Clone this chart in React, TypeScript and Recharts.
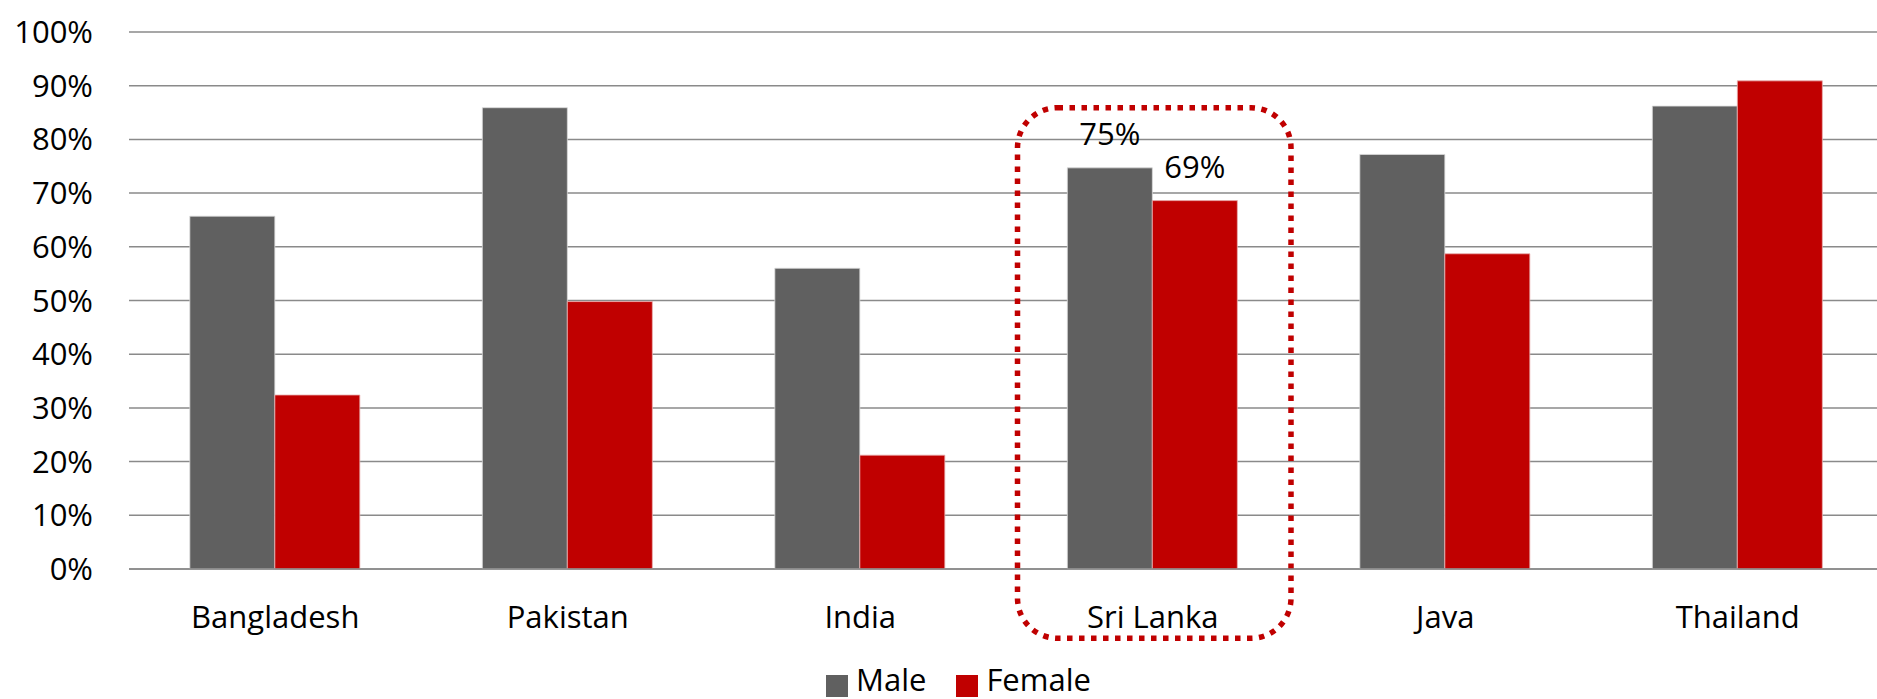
import { Bar, BarChart, CartesianGrid, LabelList, Legend, ReferenceArea, XAxis, YAxis } from "recharts";

const categories = ["Bangladesh", "Pakistan", "India", "Sri Lanka", "Java", "Thailand"];
const seriesNames = ["Male", "Female"];
const maleShare = [65.7, 85.9, 56.0, 74.7, 77.2, 86.2];
const femaleShare = [32.4, 49.8, 21.2, 68.6, 58.7, 90.9];
const yTicks = [0, 10, 20, 30, 40, 50, 60, 70, 80, 90, 100];

// the country circled in the original, and how far the dotted box reaches (in % units)
const highlightCountry = "Sri Lanka";
const highlightBottom = -12.9;
const highlightTop = 85.9;

const rows = categories.map((country, i) => ({ country, male: maleShare[i], female: femaleShare[i] }));

const FONT = "'Open Sans', sans-serif";
const MALE = "#606060";
const FEMALE = "#C00000";
const GRID = "#8a8a8a";

function HighlightBox(props: any) {
  const { x, y, width, height } = props;
  return (
    <rect
      x={x + 11}
      y={y}
      width={width - 19}
      height={height}
      rx={40}
      ry={40}
      fill="none"
      stroke={FEMALE}
      strokeWidth={5.5}
      strokeDasharray="5.5 6.5"
    />
  );
}

function highlightLabel(props: any) {
  const vb = props.viewBox ?? props;
  const { index, value } = props;
  if (categories[index] !== highlightCountry) return null;
  return (
    <text x={vb.x + vb.width / 2} y={vb.y - 23} textAnchor="middle" fontSize={31} fill="#000" fontFamily={FONT}>
      {Math.round(value)}%
    </text>
  );
}

function LegendContent({ payload }: any) {
  // keep series order (legend sorts by name otherwise)
  const items = [...(payload || [])].sort(
    (a: any, b: any) => seriesNames.indexOf(a.value) - seriesNames.indexOf(b.value)
  );
  return (
    <div
      style={{
        display: "flex",
        justifyContent: "center",
        gap: 30,
        fontFamily: FONT,
        fontSize: 31,
        lineHeight: "42px",
        color: "#000"
      }}
    >
      {items.map((item: any) => (
        <span key={item.value} style={{ display: "flex", alignItems: "flex-start", gap: 8 }}>
          <span style={{ width: 22, height: 22, marginTop: 17, background: item.color }} />
          {item.value}
        </span>
      ))}
    </div>
  );
}

export default function App() {
  return (
    <div style={{ position: "absolute", left: 0, top: 0, width: 1877, height: 699, overflow: "hidden", fontFamily: FONT }}>
      <BarChart
        width={1877}
        height={699}
        data={rows}
        margin={{ top: 32, right: -7, left: 0, bottom: 100 }}
        barCategoryGap="20.8%"
        barGap={0}
      >
        <CartesianGrid vertical={false} stroke={GRID} strokeWidth={1.5} />
        <XAxis
          dataKey="country"
          height={30}
          tickLine={false}
          tickSize={0}
          tickMargin={37}
          axisLine={{ stroke: GRID, strokeWidth: 1.5 }}
          tick={{ fontSize: 31, fill: "#000", fontFamily: FONT }}
          interval={0}
        />
        <YAxis
          width={129}
          domain={[0, 100]}
          ticks={yTicks}
          tickFormatter={(v) => `${v}%`}
          tickLine={false}
          axisLine={false}
          tickSize={0}
          tickMargin={36}
          tick={{ fontSize: 31, fill: "#000", fontFamily: FONT }}
        />
        <Legend
          verticalAlign="middle"
          align="center"
          layout="horizontal"
          content={<LegendContent />}
          wrapperStyle={{ top: 658, left: 40, width: 1837 }}
        />
        <Bar dataKey="male" name={seriesNames[0]} fill={MALE} stroke="#d9d9d9" strokeWidth={0.8} isAnimationActive={false}>
          <LabelList dataKey="male" content={highlightLabel} />
        </Bar>
        <Bar dataKey="female" name={seriesNames[1]} fill={FEMALE} stroke="#e8b0b0" strokeWidth={0.8} isAnimationActive={false}>
          <LabelList dataKey="female" content={highlightLabel} />
        </Bar>
        <ReferenceArea
          x1={highlightCountry}
          x2={highlightCountry}
          y1={highlightBottom}
          y2={highlightTop}
          ifOverflow="visible"
          shape={<HighlightBox />}
        />
      </BarChart>
    </div>
  );
}
